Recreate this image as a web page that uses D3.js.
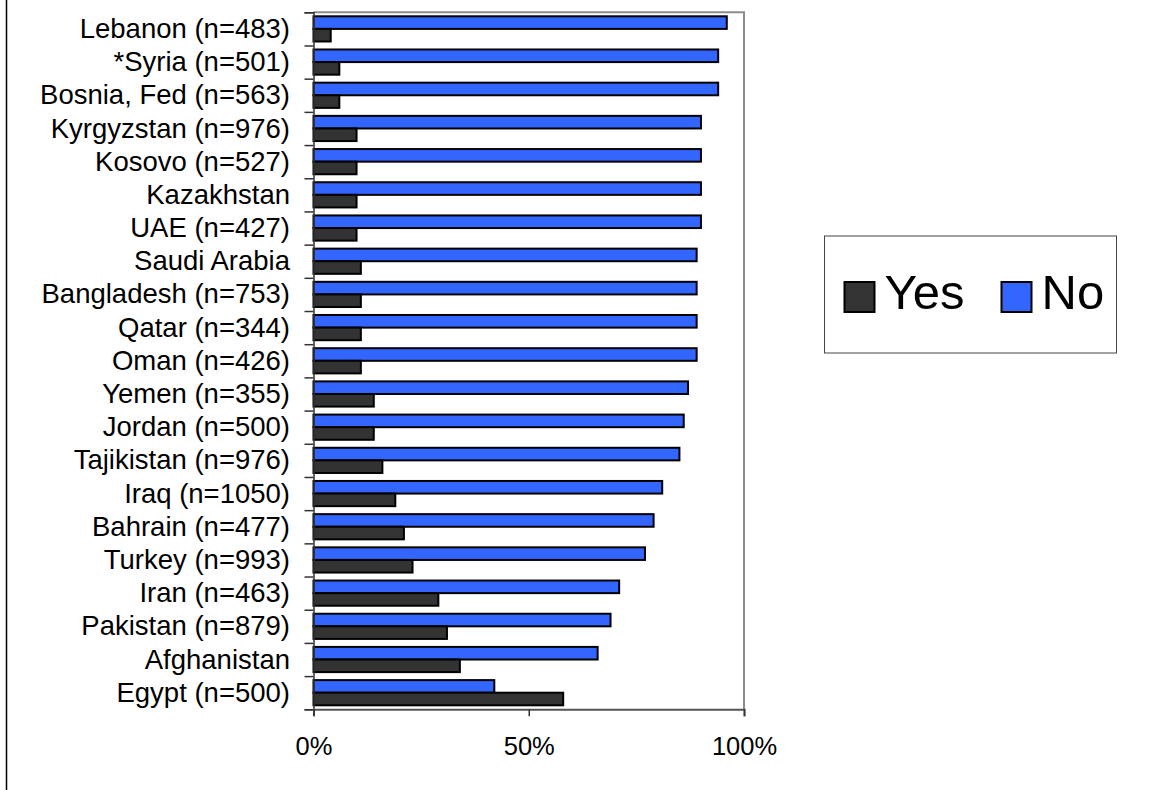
<!DOCTYPE html>
<html>
<head>
<meta charset="utf-8">
<script src="https://cdn.jsdelivr.net/npm/d3@7"></script>
<style>
    body { margin: 0; background: #fff; }
    svg { display: block; font-family: "Liberation Sans", Arial, sans-serif; }
</style>
</head>
<body>
<svg id="chart"></svg>
<script>
var countries = [
    "Lebanon (n=483)", "*Syria (n=501)", "Bosnia, Fed (n=563)", "Kyrgyzstan (n=976)",
    "Kosovo (n=527)", "Kazakhstan", "UAE (n=427)", "Saudi Arabia", "Bangladesh (n=753)",
    "Qatar (n=344)", "Oman (n=426)", "Yemen (n=355)", "Jordan (n=500)", "Tajikistan (n=976)",
    "Iraq (n=1050)", "Bahrain (n=477)", "Turkey (n=993)", "Iran (n=463)", "Pakistan (n=879)",
    "Afghanistan", "Egypt (n=500)"
];
var yesValues = [4, 6, 6, 10, 10, 10, 10, 11, 11, 11, 11, 14, 14, 16, 19, 21, 23, 29, 31, 34, 58];
var noValues = [96, 94, 94, 90, 90, 90, 90, 89, 89, 89, 89, 87, 86, 85, 81, 79, 77, 71, 69, 66, 42];
var seriesNames = ["No", "Yes"];
var seriesColors = { Yes: "#333333", No: "#3366ff" };
var xTicks = [0, 50, 100];

var width = 1171, height = 790;
var margins = { top: 12.3, left: 313.5, right: 744, bottom: 709.3 };

var svg = d3.select("#chart").attr("width", width).attr("height", height);

// outer frame edge visible on the left
svg.append("line")
    .attr("x1", 6.5).attr("x2", 6.5).attr("y1", 0).attr("y2", height)
    .attr("stroke", "#000").attr("stroke-width", 1.5);

var xScale = d3.scaleLinear().domain([0, 100]).range([margins.left, margins.right]);
var yScale = d3.scaleBand().domain(countries).range([margins.top, margins.bottom]);
var inner = d3.scaleBand().domain(seriesNames).range([0, yScale.bandwidth()]).paddingOuter(0.317);
var boundaries = d3.scaleLinear().domain([0, countries.length]).range([margins.top, margins.bottom]);

// plot frame (top and right in grey)
svg.append("path")
    .attr("d", `M${margins.left},${margins.top}H${margins.right}V${margins.bottom}`)
    .attr("fill", "none").attr("stroke", "#8c8c8c").attr("stroke-width", 2);

var rows = countries.map(function(c, i){
    return { label: c, values: [{ key: "No", value: noValues[i] }, { key: "Yes", value: yesValues[i] }] };
});

var group = svg.selectAll("g.row")
    .data(rows)
    .enter()
    .append("g")
    .attr("class", "row")
    .attr("transform", function(d){ return `translate(0, ${yScale(d.label)})`; });

group.selectAll("rect")
    .data(function(d){ return d.values; })
    .enter()
    .append("rect")
    .attr("x", xScale(0))
    .attr("y", function(d){ return inner(d.key); })
    .attr("width", function(d){ return xScale(d.value) - xScale(0); })
    .attr("height", inner.bandwidth())
    .attr("fill", function(d){ return seriesColors[d.key]; })
    .attr("stroke", "#000")
    .attr("stroke-width", 2);

// y axis: ticks at category boundaries, labels centred in bands
var yTickAxis = svg.append("g")
    .attr("transform", `translate(${margins.left}, 0)`)
    .call(d3.axisLeft(boundaries).tickValues(d3.range(countries.length + 1)).tickSize(9).tickFormat(""));
yTickAxis.select(".domain").attr("stroke", "#333").attr("stroke-width", 1.5);
yTickAxis.selectAll(".tick line").attr("stroke", "#333").attr("stroke-width", 1.5);

var yLabelAxis = svg.append("g")
    .attr("transform", `translate(${margins.left}, 0)`)
    .call(d3.axisLeft(yScale).tickSize(0).tickPadding(23.5));
yLabelAxis.select(".domain").remove();
yLabelAxis.selectAll("text")
    .attr("font-family", "Liberation Sans, Arial, sans-serif")
    .attr("font-size", 27.5)
    .attr("fill", "#000")
    .attr("dy", "0.33em");

// x axis
var xAxis = svg.append("g")
    .attr("transform", `translate(0, ${margins.bottom})`)
    .call(d3.axisBottom(xScale).tickValues(xTicks).tickSize(7).tickPadding(21)
        .tickFormat(function(d){ return d + "%"; }));
xAxis.select(".domain").attr("stroke", "#555").attr("stroke-width", 2);
xAxis.selectAll(".tick line").attr("stroke", "#333").attr("stroke-width", 1.5);
xAxis.selectAll("text")
    .attr("font-family", "Liberation Sans, Arial, sans-serif")
    .attr("font-size", 25.5)
    .attr("fill", "#000");

// legend
var legend = svg.append("g").attr("transform", "translate(824.5, 236)");
legend.append("rect")
    .attr("width", 292).attr("height", 117)
    .attr("fill", "#fff").attr("stroke", "#444").attr("stroke-width", 1);
var legendItems = [
    { key: "Yes", x: 20 },
    { key: "No", x: 177 }
];
var item = legend.selectAll("g.item")
    .data(legendItems)
    .enter()
    .append("g")
    .attr("transform", function(d){ return `translate(${d.x}, 46)`; });
item.append("rect")
    .attr("width", 30).attr("height", 30)
    .attr("fill", function(d){ return seriesColors[d.key]; })
    .attr("stroke", "#000").attr("stroke-width", 2);
item.append("text")
    .attr("x", 40).attr("y", 27)
    .attr("font-size", 49)
    .attr("fill", "#000")
    .text(function(d){ return d.key; });
</script>
</body>
</html>
